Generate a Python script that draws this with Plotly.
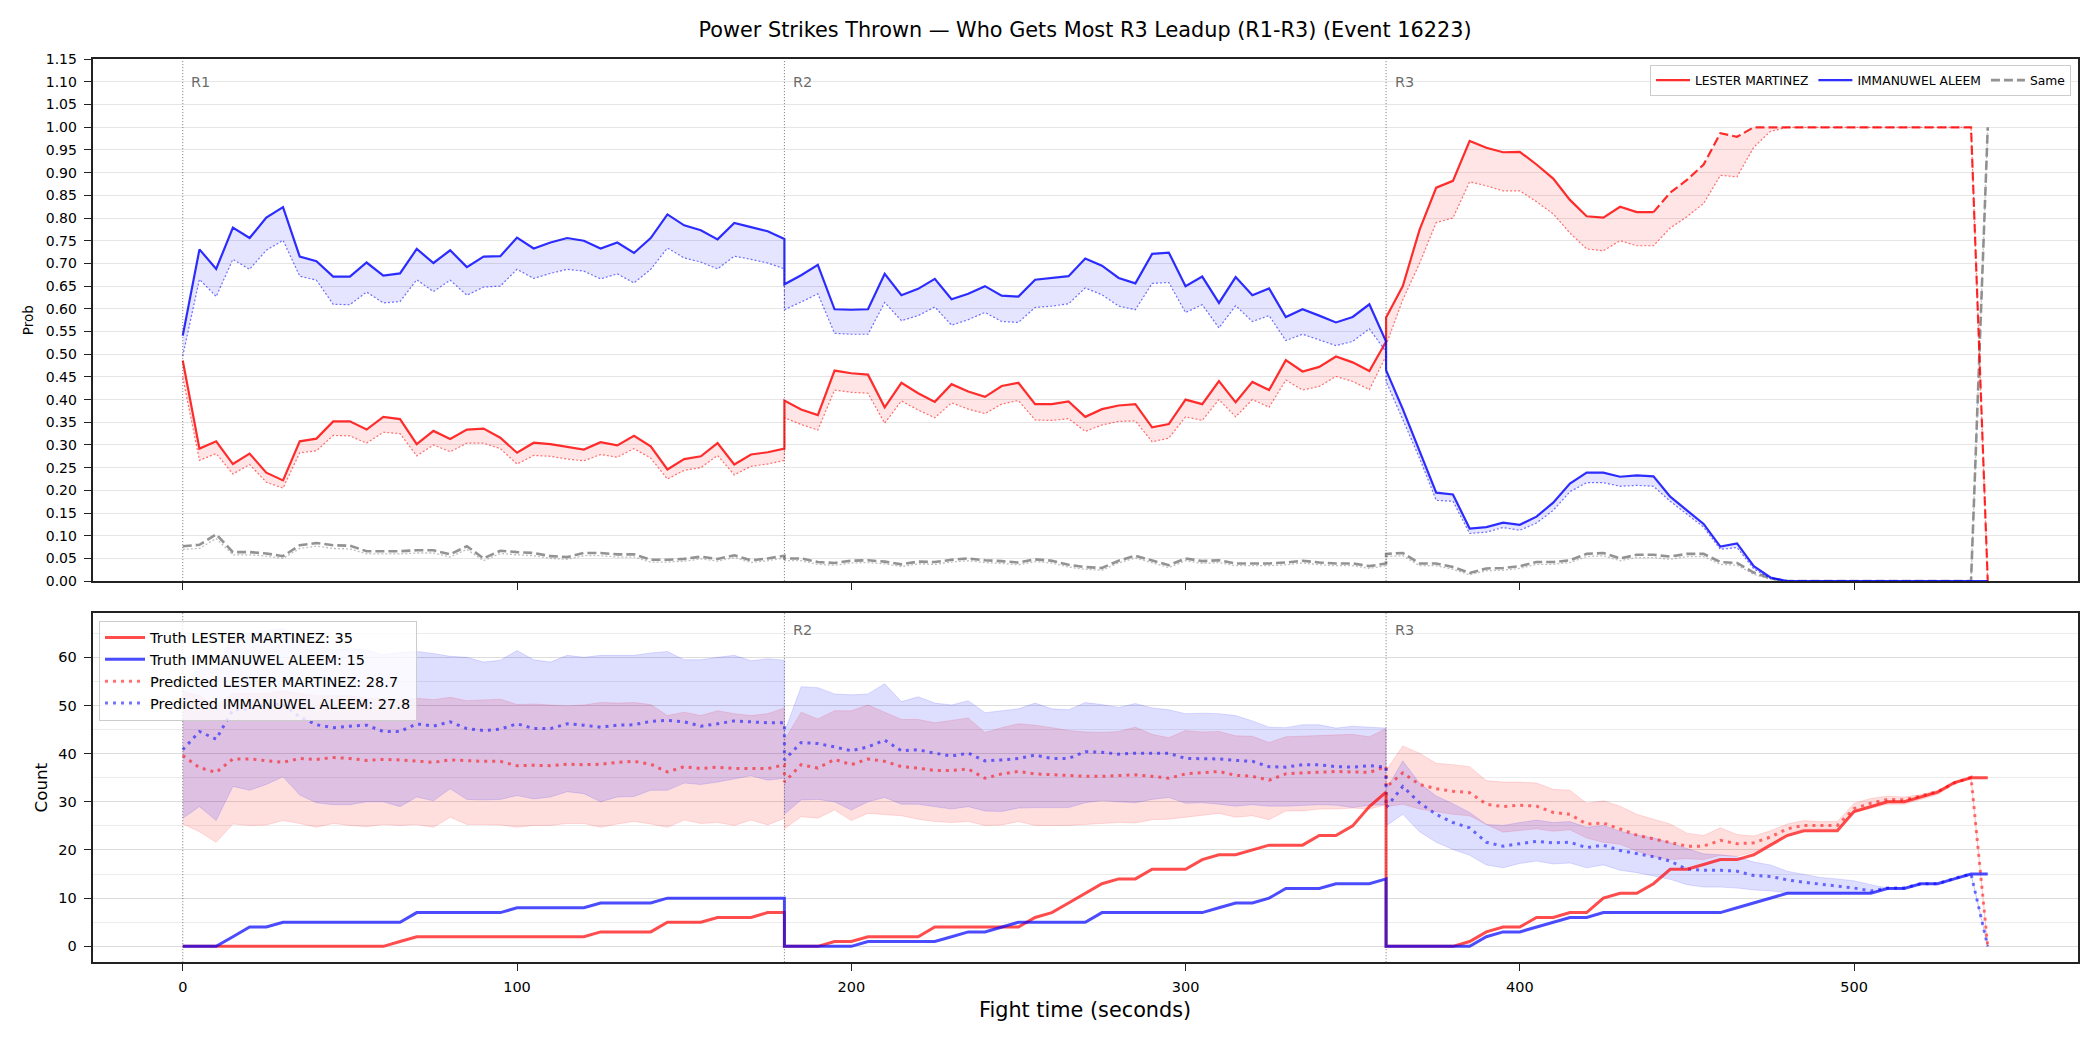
import plotly.graph_objects as go

# ---------------- time axis (seconds), one list per round ----------------
T_R1 = list(range(0, 181, 5))
T_R2 = list(range(180, 361, 5))
T_R3 = list(range(360, 541, 5))

# ---------------- TOP PANEL: probabilities ----------------
blue_p_r1 = [0.541, 0.731, 0.688, 0.779, 0.756, 0.801, 0.824, 0.715, 0.705, 0.671, 0.671, 0.702, 0.673, 0.678,
             0.732, 0.701, 0.729, 0.692, 0.715, 0.716, 0.757, 0.733, 0.746, 0.756, 0.750, 0.733, 0.746, 0.723,
             0.756, 0.808, 0.784, 0.773, 0.753, 0.789, 0.780, 0.771, 0.754]
blue_p_r2 = [0.654, 0.674, 0.697, 0.599, 0.598, 0.599, 0.677, 0.630, 0.644, 0.666, 0.621, 0.633, 0.650, 0.629,
             0.627, 0.664, 0.668, 0.672, 0.711, 0.695, 0.668, 0.656, 0.721, 0.724, 0.650, 0.671, 0.613, 0.670,
             0.630, 0.645, 0.582, 0.599, 0.585, 0.570, 0.582, 0.610, 0.528]
blue_p_r3 = [0.465, 0.379, 0.287, 0.195, 0.191, 0.116, 0.119, 0.129, 0.124, 0.142, 0.173, 0.215, 0.239, 0.239,
             0.230, 0.233, 0.231, 0.186, 0.156, 0.126, 0.076, 0.083, 0.033, 0.008, 0.0, 0.0, 0.0, 0.0,
             0.0, 0.0, 0.0, 0.0, 0.0, 0.0, 0.0, 0.0, 0.0]

blue_lo_r1 = [0.496, 0.665, 0.627, 0.709, 0.687, 0.729, 0.751, 0.672, 0.663, 0.610, 0.609, 0.637, 0.613, 0.616,
              0.664, 0.638, 0.663, 0.630, 0.648, 0.650, 0.687, 0.667, 0.678, 0.687, 0.683, 0.666, 0.677, 0.657,
              0.687, 0.734, 0.712, 0.703, 0.688, 0.716, 0.709, 0.701, 0.688]
blue_lo_r2 = [0.598, 0.615, 0.633, 0.546, 0.544, 0.544, 0.614, 0.574, 0.585, 0.604, 0.564, 0.576, 0.592, 0.572,
              0.570, 0.603, 0.606, 0.611, 0.646, 0.631, 0.606, 0.598, 0.656, 0.658, 0.592, 0.609, 0.558, 0.607,
              0.572, 0.585, 0.530, 0.544, 0.532, 0.519, 0.528, 0.556, 0.505]
blue_lo_r3 = [0.440, 0.356, 0.271, 0.178, 0.176, 0.105, 0.108, 0.118, 0.112, 0.128, 0.156, 0.197, 0.217, 0.217,
              0.209, 0.211, 0.209, 0.176, 0.147, 0.119, 0.070, 0.074, 0.027, 0.006, 0.0, 0.0, 0.0, 0.0,
              0.0, 0.0, 0.0, 0.0, 0.0, 0.0, 0.0, 0.0, 0.0]

red_p_r1 = [0.486, 0.292, 0.308, 0.258, 0.281, 0.239, 0.222, 0.308, 0.314, 0.352, 0.352, 0.334, 0.362, 0.357,
            0.302, 0.331, 0.313, 0.334, 0.336, 0.316, 0.283, 0.305, 0.302, 0.296, 0.290, 0.306, 0.299, 0.320,
            0.297, 0.246, 0.269, 0.275, 0.304, 0.257, 0.279, 0.284, 0.292]
red_p_r2 = [0.398, 0.378, 0.366, 0.464, 0.458, 0.455, 0.383, 0.437, 0.414, 0.395, 0.434, 0.418, 0.406, 0.430,
            0.437, 0.390, 0.390, 0.396, 0.362, 0.379, 0.387, 0.390, 0.339, 0.346, 0.400, 0.390, 0.441, 0.394,
            0.439, 0.421, 0.487, 0.462, 0.472, 0.495, 0.482, 0.463, 0.528]
red_p_r3 = [0.581, 0.650, 0.774, 0.867, 0.882, 0.970, 0.955, 0.945, 0.946, 0.918, 0.887, 0.840, 0.804, 0.801,
            0.825, 0.813, 0.813, 0.856, 0.884, 0.918, 0.987, 0.979, 1.0, 1.0, 1.0, 1.0, 1.0, 1.0,
            1.0, 1.0, 1.0, 1.0, 1.0, 1.0, 1.0, 1.0, 0.0]

red_lo_r1 = [0.449, 0.266, 0.281, 0.236, 0.257, 0.218, 0.205, 0.283, 0.287, 0.321, 0.320, 0.304, 0.328, 0.325,
             0.276, 0.300, 0.285, 0.304, 0.304, 0.292, 0.258, 0.277, 0.275, 0.269, 0.265, 0.279, 0.273, 0.292,
             0.271, 0.225, 0.244, 0.250, 0.277, 0.234, 0.253, 0.258, 0.266]
red_lo_r2 = [0.360, 0.345, 0.333, 0.421, 0.416, 0.414, 0.348, 0.397, 0.377, 0.360, 0.393, 0.379, 0.369, 0.390,
             0.398, 0.355, 0.354, 0.358, 0.330, 0.344, 0.352, 0.353, 0.307, 0.315, 0.362, 0.354, 0.400, 0.362,
             0.400, 0.383, 0.443, 0.421, 0.429, 0.451, 0.440, 0.422, 0.496]
red_lo_r3 = [0.520, 0.620, 0.700, 0.790, 0.800, 0.880, 0.871, 0.860, 0.860, 0.836, 0.809, 0.767, 0.732, 0.728,
             0.750, 0.739, 0.739, 0.778, 0.803, 0.832, 0.894, 0.891, 0.956, 0.991, 1.0, 1.0, 1.0, 1.0,
             1.0, 1.0, 1.0, 1.0, 1.0, 1.0, 1.0, 1.0, 0.0]

same_p_r1 = [0.077, 0.080, 0.103, 0.064, 0.064, 0.061, 0.055, 0.079, 0.084, 0.079, 0.078, 0.066, 0.066, 0.066,
             0.068, 0.068, 0.059, 0.077, 0.050, 0.067, 0.064, 0.062, 0.055, 0.053, 0.062, 0.062, 0.059, 0.059,
             0.047, 0.047, 0.049, 0.054, 0.049, 0.057, 0.046, 0.050, 0.056]
same_p_r2 = [0.050, 0.050, 0.042, 0.040, 0.045, 0.046, 0.043, 0.037, 0.043, 0.042, 0.047, 0.050, 0.046, 0.044,
             0.041, 0.048, 0.045, 0.036, 0.031, 0.029, 0.045, 0.056, 0.046, 0.035, 0.050, 0.044, 0.046, 0.039,
             0.039, 0.039, 0.041, 0.045, 0.041, 0.039, 0.039, 0.033, 0.039]
same_p_r3 = [0.060, 0.062, 0.039, 0.039, 0.031, 0.018, 0.028, 0.029, 0.033, 0.042, 0.042, 0.046, 0.060, 0.062,
             0.050, 0.058, 0.058, 0.054, 0.060, 0.060, 0.042, 0.040, 0.019, 0.006, 0.0, 0.0, 0.0, 0.0,
             0.0, 0.0, 0.0, 0.0, 0.0, 0.0, 0.0, 0.0, 1.0]

same_lo_r1 = [0.070, 0.072, 0.094, 0.058, 0.058, 0.055, 0.050, 0.072, 0.077, 0.072, 0.071, 0.060, 0.060, 0.060,
              0.062, 0.062, 0.053, 0.070, 0.045, 0.061, 0.058, 0.056, 0.050, 0.048, 0.056, 0.056, 0.053, 0.053,
              0.042, 0.042, 0.044, 0.049, 0.044, 0.052, 0.041, 0.045, 0.051]
same_lo_r2 = [0.045, 0.045, 0.037, 0.035, 0.040, 0.041, 0.038, 0.032, 0.038, 0.037, 0.042, 0.045, 0.041, 0.039,
              0.036, 0.043, 0.040, 0.031, 0.026, 0.024, 0.040, 0.051, 0.041, 0.030, 0.045, 0.039, 0.041, 0.034,
              0.034, 0.034, 0.036, 0.040, 0.036, 0.034, 0.034, 0.028, 0.034]
same_lo_r3 = [0.054, 0.056, 0.034, 0.034, 0.026, 0.014, 0.023, 0.024, 0.028, 0.037, 0.037, 0.041, 0.054, 0.056,
              0.045, 0.052, 0.052, 0.048, 0.054, 0.054, 0.037, 0.035, 0.015, 0.004, 0.0, 0.0, 0.0, 0.0,
              0.0, 0.0, 0.0, 0.0, 0.0, 0.0, 0.0, 0.0, 1.0]

# ---------------- BOTTOM PANEL: counts ----------------
truth_red_r1 = [0, 0, 0, 0, 0, 0, 0, 0, 0, 0, 0, 0, 0, 1, 2, 2, 2, 2, 2, 2, 2, 2, 2, 2, 2, 3, 3, 3, 3, 5, 5, 5,
                6, 6, 6, 7, 7]
truth_red_r2 = [0, 0, 0, 1, 1, 2, 2, 2, 2, 4, 4, 4, 4, 4, 4, 6, 7, 9, 11, 13, 14, 14, 16, 16, 16, 18, 19, 19,
                20, 21, 21, 21, 23, 23, 25, 29, 32]
truth_red_r3 = [0, 0, 0, 0, 0, 1, 3, 4, 4, 6, 6, 7, 7, 10, 11, 11, 13, 16, 16, 17, 18, 18, 19, 21, 23, 24, 24,
                24, 28, 29, 30, 30, 31, 32, 34, 35, 35]

truth_blue_r1 = [0, 0, 0, 2, 4, 4, 5, 5, 5, 5, 5, 5, 5, 5, 7, 7, 7, 7, 7, 7, 8, 8, 8, 8, 8, 9, 9, 9, 9, 10, 10,
                 10, 10, 10, 10, 10, 10]
truth_blue_r2 = [0, 0, 0, 0, 0, 1, 1, 1, 1, 1, 2, 3, 3, 4, 5, 5, 5, 5, 5, 7, 7, 7, 7, 7, 7, 7, 8, 9, 9, 10, 12,
                 12, 12, 13, 13, 13, 14]
truth_blue_r3 = [0, 0, 0, 0, 0, 0, 2, 3, 3, 4, 5, 6, 6, 7, 7, 7, 7, 7, 7, 7, 7, 8, 9, 10, 11, 11, 11, 11, 11,
                 11, 12, 12, 13, 13, 14, 15, 15]

pred_red_r1 = [39.6, 37.1, 36.1, 38.9, 38.9, 38.6, 38.2, 39.0, 38.8, 39.2, 39.0, 38.6, 38.8, 38.7, 38.4, 38.2,
               38.7, 38.5, 38.4, 38.4, 37.5, 37.6, 37.5, 37.8, 37.7, 37.8, 38.2, 38.4, 37.8, 36.2, 37.3, 36.9,
               37.2, 36.9, 36.9, 36.9, 37.7]
pred_red_r2 = [34.1, 37.7, 37.0, 38.8, 37.7, 38.9, 38.4, 37.3, 37.0, 36.5, 36.5, 36.8, 34.9, 35.8, 36.3, 35.8,
               35.6, 35.5, 35.3, 35.3, 35.5, 35.6, 35.3, 34.9, 35.8, 36.0, 36.3, 35.5, 35.3, 34.5, 35.8, 36.0,
               36.1, 36.3, 36.2, 36.1, 37.3]
pred_red_r3 = [33.0, 36.0, 33.6, 32.7, 32.2, 31.9, 29.5, 29.0, 29.3, 29.1, 27.8, 27.4, 25.4, 25.6, 24.4, 23.1,
               22.3, 21.6, 20.8, 20.8, 22.0, 21.3, 21.5, 22.7, 24.4, 25.1, 25.1, 25.1, 28.6, 29.7, 30.5, 30.4,
               31.2, 32.1, 33.9, 35.1, 0.0]

red_hi_r1 = [53.0, 52.0, 50.0, 52.5, 52.5, 52.5, 53.0, 52.5, 52.0, 52.0, 52.0, 51.5, 51.5, 51.2, 51.5, 51.2,
             51.7, 51.0, 51.2, 51.3, 50.2, 50.3, 50.1, 49.9, 50.1, 50.6, 50.5, 50.6, 50.2, 47.9, 48.6, 47.9,
             48.9, 48.3, 47.9, 48.3, 49.5]
red_hi_r2 = [42.8, 48.6, 47.2, 48.9, 48.9, 50.1, 48.6, 47.1, 47.1, 46.4, 46.9, 47.4, 44.4, 45.4, 46.2, 45.9,
             45.4, 44.8, 44.5, 44.4, 44.6, 45.5, 44.0, 43.3, 44.8, 44.5, 44.6, 43.7, 43.6, 42.3, 43.5, 43.6,
             43.7, 43.8, 44.0, 43.5, 45.2]
red_hi_r3 = [36.5, 41.6, 40.1, 38.0, 37.7, 37.3, 34.4, 34.1, 34.1, 33.9, 32.6, 32.4, 29.7, 30.2, 29.1, 27.4,
             26.4, 25.4, 23.5, 23.0, 24.6, 23.2, 22.9, 24.0, 25.4, 26.1, 25.9, 25.9, 29.7, 30.7, 31.2, 31.0,
             31.5, 32.4, 34.1, 35.1, 0.0]

red_lo_cnt_r1 = [25.4, 23.8, 21.6, 25.4, 25.1, 25.2, 26.1, 25.5, 24.7, 25.5, 25.1, 24.8, 25.3, 25.1, 25.3, 24.7,
                 26.8, 25.3, 25.3, 25.2, 24.7, 25.1, 25.1, 25.5, 25.5, 24.7, 25.4, 25.9, 25.4, 24.7, 26.2, 25.5,
                 25.7, 25.1, 26.2, 25.2, 26.6]
red_lo_cnt_r2 = [24.4, 26.9, 26.6, 28.3, 26.1, 27.6, 27.4, 27.1, 26.4, 25.9, 25.7, 25.9, 25.1, 25.2, 25.9, 25.1,
                 25.1, 25.1, 25.3, 25.5, 25.7, 25.6, 26.3, 26.4, 26.8, 27.1, 27.6, 26.8, 27.1, 26.3, 28.1, 28.1,
                 28.5, 28.5, 28.7, 28.5, 29.4]
red_lo_cnt_r3 = [29.0, 29.5, 28.5, 27.9, 27.4, 27.1, 25.3, 23.7, 24.0, 24.4, 23.9, 24.2, 22.5, 21.6, 21.2, 19.8,
                 18.6, 18.0, 18.2, 18.0, 18.9, 18.7, 19.6, 21.2, 23.2, 24.4, 24.4, 24.4, 27.8, 28.7, 29.5, 29.5,
                 30.5, 31.5, 33.6, 34.9, 0.0]

pred_blue_r1 = [40.8, 44.6, 43.0, 49.1, 49.3, 50.1, 50.3, 47.6, 46.0, 45.4, 45.7, 45.9, 44.6, 44.6, 46.2, 45.7,
                46.6, 45.2, 44.8, 45.1, 46.2, 45.2, 45.2, 46.2, 45.9, 45.5, 45.9, 46.0, 46.7, 46.9, 46.6, 45.7,
                46.2, 46.8, 46.6, 46.4, 46.4]
pred_blue_r2 = [38.7, 42.3, 42.1, 41.4, 40.6, 41.4, 42.8, 40.6, 40.8, 40.1, 39.5, 40.1, 38.5, 38.7, 39.0, 39.7,
                39.0, 39.0, 40.4, 40.3, 39.9, 40.1, 40.1, 40.1, 39.0, 39.0, 38.9, 38.6, 38.4, 37.3, 37.2, 37.7,
                37.7, 37.3, 37.2, 37.5, 37.2]
pred_blue_r3 = [28.8, 33.2, 29.8, 27.4, 25.7, 24.6, 21.6, 20.8, 21.3, 21.8, 21.5, 21.6, 20.5, 21.0, 19.9, 19.2,
                18.6, 17.7, 16.0, 15.8, 15.8, 15.6, 14.7, 14.5, 13.8, 13.3, 12.9, 12.4, 12.1, 11.5, 12.1, 12.1,
                13.0, 13.0, 14.1, 15.0, 0.0]

blue_hi_r1 = [54.0, 58.0, 57.5, 64.5, 65.0, 65.5, 66.0, 63.5, 62.5, 61.5, 61.8, 61.5, 60.5, 61.0, 61.2, 60.8,
              60.2, 60.0, 59.0, 59.4, 61.4, 59.5, 59.0, 60.4, 60.0, 60.4, 60.4, 60.4, 60.9, 61.2, 59.5, 59.5,
              60.0, 60.4, 59.3, 59.7, 59.4]
blue_hi_r2 = [44.5, 53.9, 53.7, 52.4, 52.2, 52.4, 54.5, 50.8, 51.8, 50.5, 50.1, 51.0, 48.5, 48.9, 49.3, 50.5,
              49.3, 49.1, 50.6, 50.2, 49.6, 50.4, 49.5, 49.1, 48.3, 48.4, 48.3, 47.9, 46.8, 45.5, 45.4, 46.0,
              46.0, 45.3, 45.7, 45.5, 45.3]
blue_hi_r3 = [32.5, 38.5, 33.9, 31.2, 29.6, 27.8, 25.3, 25.1, 25.7, 26.2, 25.7, 25.9, 24.7, 25.1, 23.9, 23.1,
              22.5, 21.5, 20.3, 19.2, 19.0, 18.6, 17.5, 16.9, 15.6, 14.9, 14.3, 14.0, 13.6, 12.8, 12.1, 12.1,
              13.0, 13.0, 14.1, 15.0, 0.0]

blue_lo_cnt_r1 = [26.6, 29.0, 26.1, 33.2, 32.4, 33.6, 35.2, 31.4, 29.8, 29.4, 29.4, 30.0, 30.0, 29.0, 31.0, 30.2,
                  32.7, 30.5, 30.4, 30.5, 31.3, 30.6, 31.0, 32.1, 31.7, 30.0, 31.0, 31.1, 32.4, 32.4, 33.9, 33.6,
                  34.1, 34.7, 35.4, 34.5, 34.9]
blue_lo_cnt_r2 = [27.4, 30.4, 30.5, 30.0, 28.3, 30.0, 30.9, 29.5, 29.5, 29.0, 28.5, 29.0, 28.1, 28.0, 28.7, 28.8,
                  28.8, 28.8, 29.8, 30.3, 30.0, 29.8, 30.5, 30.9, 29.7, 29.8, 29.5, 29.1, 29.4, 29.1, 29.1, 29.3,
                  29.4, 29.3, 28.8, 29.3, 29.4]
blue_lo_cnt_r3 = [25.0, 27.4, 23.8, 21.6, 20.1, 18.9, 16.9, 16.3, 17.2, 17.7, 17.1, 17.3, 16.3, 16.9, 15.8, 15.3,
                  14.6, 13.9, 12.8, 12.3, 12.3, 12.1, 11.7, 11.5, 11.1, 11.1, 11.1, 11.1, 11.1, 11.1, 12.1, 12.1,
                  13.0, 13.0, 14.1, 15.0, 0.0]

ROUND_STARTS = [0, 180, 360]
ROUND_LABELS = ["R1", "R2", "R3"]
NAME_RED = "LESTER MARTINEZ"
NAME_BLUE = "IMMANUWEL ALEEM"
TRUTH_RED_FINAL = 35
TRUTH_BLUE_FINAL = 15
PRED_RED_FINAL = 28.7
PRED_BLUE_FINAL = 27.8
TITLE = "Power Strikes Thrown \u2014 Who Gets Most R3 Leadup (R1-R3) (Event 16223)"

# ---------------- assemble ----------------
T = T_R1 + T_R2 + T_R3
blue_p = blue_p_r1 + blue_p_r2 + blue_p_r3
blue_lo = blue_lo_r1 + blue_lo_r2 + blue_lo_r3
red_p = red_p_r1 + red_p_r2 + red_p_r3
red_lo = red_lo_r1 + red_lo_r2 + red_lo_r3
same_p = same_p_r1 + same_p_r2 + same_p_r3
same_lo = same_lo_r1 + same_lo_r2 + same_lo_r3

truth_red = truth_red_r1 + truth_red_r2 + truth_red_r3
truth_blue = truth_blue_r1 + truth_blue_r2 + truth_blue_r3
pred_red = pred_red_r1 + pred_red_r2 + pred_red_r3
red_hi = red_hi_r1 + red_hi_r2 + red_hi_r3
red_lo_c = red_lo_cnt_r1 + red_lo_cnt_r2 + red_lo_cnt_r3
pred_blue = pred_blue_r1 + pred_blue_r2 + pred_blue_r3
blue_hi = blue_hi_r1 + blue_hi_r2 + blue_hi_r3
blue_lo_c = blue_lo_cnt_r1 + blue_lo_cnt_r2 + blue_lo_cnt_r3

split = len(T_R1) + len(T_R2) + T_R3.index(440)

FONT = "DejaVu Sans"
RED = "rgba(255,0,0,0.82)"
BLUE = "rgba(0,0,255,0.82)"

fig = go.Figure()

# ---- top panel ----
fig.add_trace(go.Scatter(x=T, y=same_lo, mode="lines", xaxis="x", yaxis="y", showlegend=False,
                         line=dict(color="rgba(150,150,150,0.6)", width=1.3, dash="2px,2px")))
fig.add_trace(go.Scatter(x=T, y=same_p, mode="lines", xaxis="x", yaxis="y", name="Same", legend="legend",
                         legendrank=3, line=dict(color="rgba(128,128,128,0.85)", width=2.6, dash="9px,4px")))

fig.add_trace(go.Scatter(x=T, y=red_lo, mode="lines", xaxis="x", yaxis="y", showlegend=False,
                         line=dict(color="rgba(255,0,0,0.55)", width=1.2, dash="2px,2px")))
fig.add_trace(go.Scatter(x=T, y=red_p, mode="lines", xaxis="x", yaxis="y", showlegend=False,
                         fill="tonexty", fillcolor="rgba(255,0,0,0.1)", line=dict(width=0)))
fig.add_trace(go.Scatter(x=T[:split + 1], y=red_p[:split + 1], mode="lines", xaxis="x", yaxis="y",
                         name=NAME_RED, legend="legend", legendrank=1, line=dict(color=RED, width=2.2)))
fig.add_trace(go.Scatter(x=T[split:], y=red_p[split:], mode="lines", xaxis="x", yaxis="y", showlegend=False,
                         line=dict(color=RED, width=2.2, dash="9px,4px")))

fig.add_trace(go.Scatter(x=T, y=blue_lo, mode="lines", xaxis="x", yaxis="y", showlegend=False,
                         line=dict(color="rgba(0,0,255,0.55)", width=1.2, dash="2px,2px")))
fig.add_trace(go.Scatter(x=T, y=blue_p, mode="lines", xaxis="x", yaxis="y", showlegend=False,
                         fill="tonexty", fillcolor="rgba(0,0,255,0.1)", line=dict(width=0)))
fig.add_trace(go.Scatter(x=T, y=blue_p, mode="lines", xaxis="x", yaxis="y", name=NAME_BLUE, legend="legend",
                         legendrank=2, line=dict(color=BLUE, width=2.2)))

# ---- bottom panel ----
fig.add_trace(go.Scatter(x=T, y=red_lo_c, mode="lines", xaxis="x2", yaxis="y2", showlegend=False,
                         line=dict(color="rgba(255,0,0,0.12)", width=1)))
fig.add_trace(go.Scatter(x=T, y=red_hi, mode="lines", xaxis="x2", yaxis="y2", showlegend=False,
                         fill="tonexty", fillcolor="rgba(255,0,0,0.13)",
                         line=dict(color="rgba(255,0,0,0.12)", width=1)))
fig.add_trace(go.Scatter(x=T, y=blue_lo_c, mode="lines", xaxis="x2", yaxis="y2", showlegend=False,
                         line=dict(color="rgba(0,0,255,0.12)", width=1)))
fig.add_trace(go.Scatter(x=T, y=blue_hi, mode="lines", xaxis="x2", yaxis="y2", showlegend=False,
                         fill="tonexty", fillcolor="rgba(0,0,255,0.13)",
                         line=dict(color="rgba(0,0,255,0.12)", width=1)))

fig.add_trace(go.Scatter(x=T, y=pred_red, mode="lines", xaxis="x2", yaxis="y2",
                         name=f"Predicted {NAME_RED}: {PRED_RED_FINAL}", legend="legend2", legendrank=3,
                         legendgroup="g3",
                         line=dict(color="rgba(255,0,0,0.55)", width=3, dash="3px,5px")))
fig.add_trace(go.Scatter(x=T, y=pred_blue, mode="lines", xaxis="x2", yaxis="y2",
                         name=f"Predicted {NAME_BLUE}: {PRED_BLUE_FINAL}", legend="legend2", legendrank=4,
                         legendgroup="g4",
                         line=dict(color="rgba(0,0,255,0.55)", width=3, dash="3px,5px")))
fig.add_trace(go.Scatter(x=T, y=truth_red, mode="lines", xaxis="x2", yaxis="y2",
                         name=f"Truth {NAME_RED}: {TRUTH_RED_FINAL}", legend="legend2", legendrank=1,
                         legendgroup="g1",
                         line=dict(color="rgba(255,0,0,0.7)", width=3)))
fig.add_trace(go.Scatter(x=T, y=truth_blue, mode="lines", xaxis="x2", yaxis="y2",
                         name=f"Truth {NAME_BLUE}: {TRUTH_BLUE_FINAL}", legend="legend2", legendrank=2,
                         legendgroup="g2",
                         line=dict(color="rgba(0,0,255,0.7)", width=3)))

# ---- layout ----
X_DOM = [92.5 / 2100, 2078 / 2100]
TOP_DOM = [(1050 - 582) / 1050, (1050 - 52) / 1050]
BOT_DOM = [(1050 - 969) / 1050, (1050 - 614) / 1050]
XR = [-27, 567]
axis_common = dict(showline=True, mirror=True, linecolor="#222222", linewidth=1.6, ticks="outside",
                   ticklen=7, tickwidth=1.4, tickcolor="#222222", zeroline=False)

top_ticks = [i * 0.05 for i in range(24)]
fig.update_layout(
    width=2100, height=1050, autosize=False,
    margin=dict(l=0, r=0, t=0, b=0),
    paper_bgcolor="white", plot_bgcolor="white",
    font=dict(family=FONT, color="#000000"),
    title=dict(text=TITLE, x=1085 / 2100, xanchor="center", y=(1050 - 29.5) / 1050, yanchor="middle",
               font=dict(size=20.8, family=FONT, color="#000000")),
    xaxis=dict(domain=X_DOM, anchor="y", range=XR, tickvals=[0, 100, 200, 300, 400, 500],
               showticklabels=False, showgrid=False, **axis_common),
    yaxis=dict(domain=TOP_DOM, anchor="x", range=[0, 1.15], tickvals=top_ticks,
               ticktext=[f"{v:.2f}" for v in top_ticks], tickfont=dict(size=14, family=FONT),
               showgrid=True, gridcolor="#e6e6e6", gridwidth=1, ticklabelstandoff=4, **axis_common),
    xaxis2=dict(domain=X_DOM, anchor="y2", range=XR, tickvals=[0, 100, 200, 300, 400, 500],
                tickfont=dict(size=14.5, family=FONT), showgrid=False, ticklabelstandoff=4, **axis_common),
    yaxis2=dict(domain=BOT_DOM, anchor="x2", range=[-3.30, 69.27], tickvals=[0, 10, 20, 30, 40, 50, 60],
                tickfont=dict(size=14.5, family=FONT), showgrid=True, gridcolor="#dcdcdc", gridwidth=1,
                minor=dict(tickvals=[5, 15, 25, 35, 45, 55, 65], showgrid=True, gridcolor="#ececec",
                           ticks=""),
                ticklabelstandoff=4, **axis_common),
    legend=dict(x=2071 / 2100, xanchor="right", y=(1050 - 57.5) / 1050, yanchor="top", orientation="h",
                bgcolor="rgba(255,255,255,0.8)", bordercolor="#cccccc", borderwidth=1,
                font=dict(size=12.3, family=FONT), itemwidth=34, traceorder="normal"),
    legend2=dict(x=99 / 2100, xanchor="left", y=(1050 - 622) / 1050, yanchor="top", orientation="v",
                 bgcolor="rgba(255,255,255,0.8)", bordercolor="#cccccc", borderwidth=1,
                 font=dict(size=14.5, family=FONT), itemwidth=40, tracegroupgap=2, traceorder="normal"),
)

shapes = []
annotations = []
for xs in ROUND_STARTS:
    for xr, yr in (("x", "y domain"), ("x2", "y2 domain")):
        shapes.append(dict(type="line", xref=xr, yref=yr, x0=xs, x1=xs, y0=0, y1=1,
                           line=dict(color="rgba(60,60,60,0.7)", width=1, dash="1px,2px")))
for xs, lab in zip(ROUND_STARTS, ROUND_LABELS):
    annotations.append(dict(text=lab, x=xs + 2, y=1.10, xref="x", yref="y", xanchor="left", yanchor="middle",
                            showarrow=False, font=dict(size=14.5, family=FONT, color="rgba(80,80,80,0.85)")))
    if lab != "R1":
        annotations.append(dict(text=lab, x=xs + 2, y=0.95, xref="x2", yref="y2 domain", xanchor="left",
                                yanchor="middle", showarrow=False,
                                font=dict(size=14.5, family=FONT, color="rgba(80,80,80,0.85)")))
annotations.append(dict(text="Prob", x=28 / 2100, y=sum(TOP_DOM) / 2, xref="paper", yref="paper",
                        textangle=-90, showarrow=False, xanchor="center", yanchor="middle",
                        font=dict(size=13.5, family=FONT)))
annotations.append(dict(text="Count", x=41 / 2100, y=sum(BOT_DOM) / 2, xref="paper", yref="paper",
                        textangle=-90, showarrow=False, xanchor="center", yanchor="middle",
                        font=dict(size=16.7, family=FONT)))
annotations.append(dict(text="Fight time (seconds)", x=1085 / 2100, y=(1050 - 1018) / 1050, xref="paper",
                        yref="paper", showarrow=False, xanchor="center", yanchor="middle",
                        font=dict(size=20.8, family=FONT)))
fig.update_layout(shapes=shapes, annotations=annotations)

fig.write_html("out.html")
